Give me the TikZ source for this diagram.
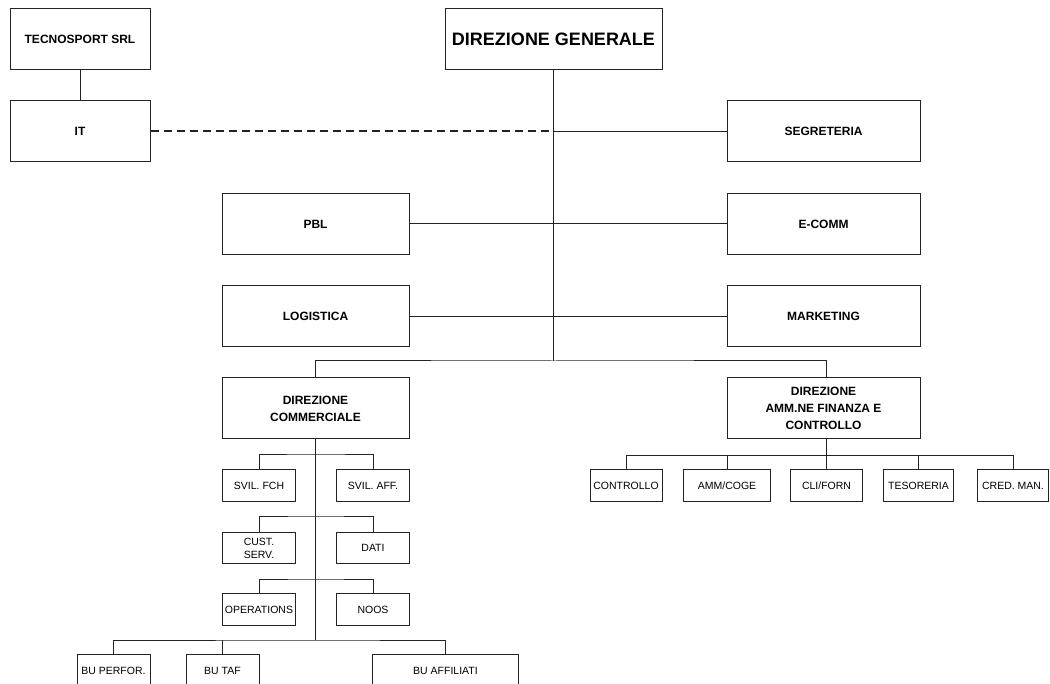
\documentclass[tikz,border=0pt]{standalone}
\usepackage{fontspec}
\setmainfont{Liberation Sans}
\definecolor{linegray}{RGB}{35,35,35}
\tikzset{
  unit/.style={draw=linegray, fill=white, line width=1pt, inner sep=1pt,
    minimum height=61pt, align=center,
    font=\bfseries\fontsize{12}{17}\selectfont},
  office/.style={draw=linegray, fill=white, line width=1pt, inner sep=0.5pt,
    minimum height=31.5pt, minimum width=73pt, align=center,
    font=\fontsize{10.5}{13}\selectfont},
  link/.style={draw=linegray, line width=1pt}
}
\begin{document}
\begin{tikzpicture}[x=1pt,y=-1pt]
\clip (0,0) rectangle (1050,684);
\fill[white] (0,0) rectangle (1050,684);

% vertici
\node[unit,minimum width=140pt] (cTecno) at (80,39.5) {TECNOSPORT SRL};
\node[unit,minimum width=140pt] (cIT) at (80,131.5) {IT};
\node[unit,minimum width=217pt,font=\bfseries\fontsize{18}{20}\selectfont] (cDG) at (553.5,39.5) {DIREZIONE GENERALE};

\node[unit,minimum width=193pt] (cSegr) at (823.5,131.5) {SEGRETERIA};
\node[unit,minimum width=187pt] (cPBL) at (315.5,224) {PBL};
\node[unit,minimum width=193pt] (cEcomm) at (823.5,224) {E-COMM};
\node[unit,minimum width=187pt] (cLogi) at (315.5,316.5) {LOGISTICA};
\node[unit,minimum width=193pt] (cMkt) at (823.5,316.5) {MARKETING};

\node[unit,minimum width=187pt] (cDirComm) at (315.5,408.5) {DIREZIONE\\COMMERCIALE};
\node[unit,minimum width=193pt] (cDirAmm) at (823.5,408.5) {DIREZIONE\\AMM.NE FINANZA E\\CONTROLLO};

% uffici commerciali
\node[office] (cSvFch) at (259,485.5) {SVIL. FCH};
\node[office] (cSvAff) at (373,485.5) {SVIL. AFF.};
\node[office] (cCust) at (259,548) {CUST.\\SERV.};
\node[office] (cDati) at (373,548) {DATI};
\node[office] (cOper) at (259,609.5) {OPERATIONS};
\node[office] (cNoos) at (373,609.5) {NOOS};

\node[office] (cBuPerf) at (113.5,670.5) {BU PERFOR.};
\node[office] (cBuTaf) at (222.5,670.5) {BU TAF};
\node[office,minimum width=146pt] (cBuAff) at (445.5,670.5) {BU AFFILIATI};

% uffici amministrativi
\node[office,minimum width=72pt] (cContr) at (626,485.5) {CONTROLLO};
\node[office,minimum width=87pt] (cAmmCoge) at (727,485.5) {AMM/COGE};
\node[office,minimum width=72pt] (cCliForn) at (826.5,485.5) {CLI/FORN};
\node[office,minimum width=70pt] (cTesor) at (918.5,485.5) {TESORERIA};
\node[office,minimum width=71pt] (cCredMan) at (1013,485.5) {CRED. MAN.};

\coordinate (cSpine) at (553.5,361);
\coordinate (cLBus) at (315.5,640);
\coordinate (cRBus) at (826.5,455.5);

% collegamenti
\draw[link] (cTecno) -- (cIT);
\draw[link] (cDG.south) -- (cSpine);
\draw[link,dashed,line width=2pt,dash pattern=on 8pt off 5pt] (cIT.east) -- (cIT.east -| cDG.south);
\draw[link] (cIT.east -| cDG.south) -- (cSegr.west);
\draw[link] (cPBL.east) -- (cEcomm.west);
\draw[link] (cLogi.east) -- (cMkt.west);
\draw[link] (cDirComm.north) |- (cSpine) -| (cDirAmm.north -| cCliForn.north);

\draw[link] (cDirComm.south) -- (cLBus);
\foreach \l/\r/\y in {cSvFch/cSvAff/455, cCust/cDati/516, cOper/cNoos/579}
{
    \draw[link] (\l.north) |- (315.5,\y) -| (\r.north);
};
\draw[link] (cBuPerf.north) |- (cLBus) -| (cBuAff.north);
\draw[link] (cBuTaf.north) -- (cBuTaf.north |- cLBus);

\draw[link] (cDirAmm.south -| cCliForn.north) -- (cCliForn.north);
\draw[link] (cContr.north) |- (cRBus) -| (cCredMan.north);
\foreach \v in {cAmmCoge,cTesor}
{
    \draw[link] (\v.north) -- (\v.north |- cRBus);
};

\end{tikzpicture}
\end{document}
